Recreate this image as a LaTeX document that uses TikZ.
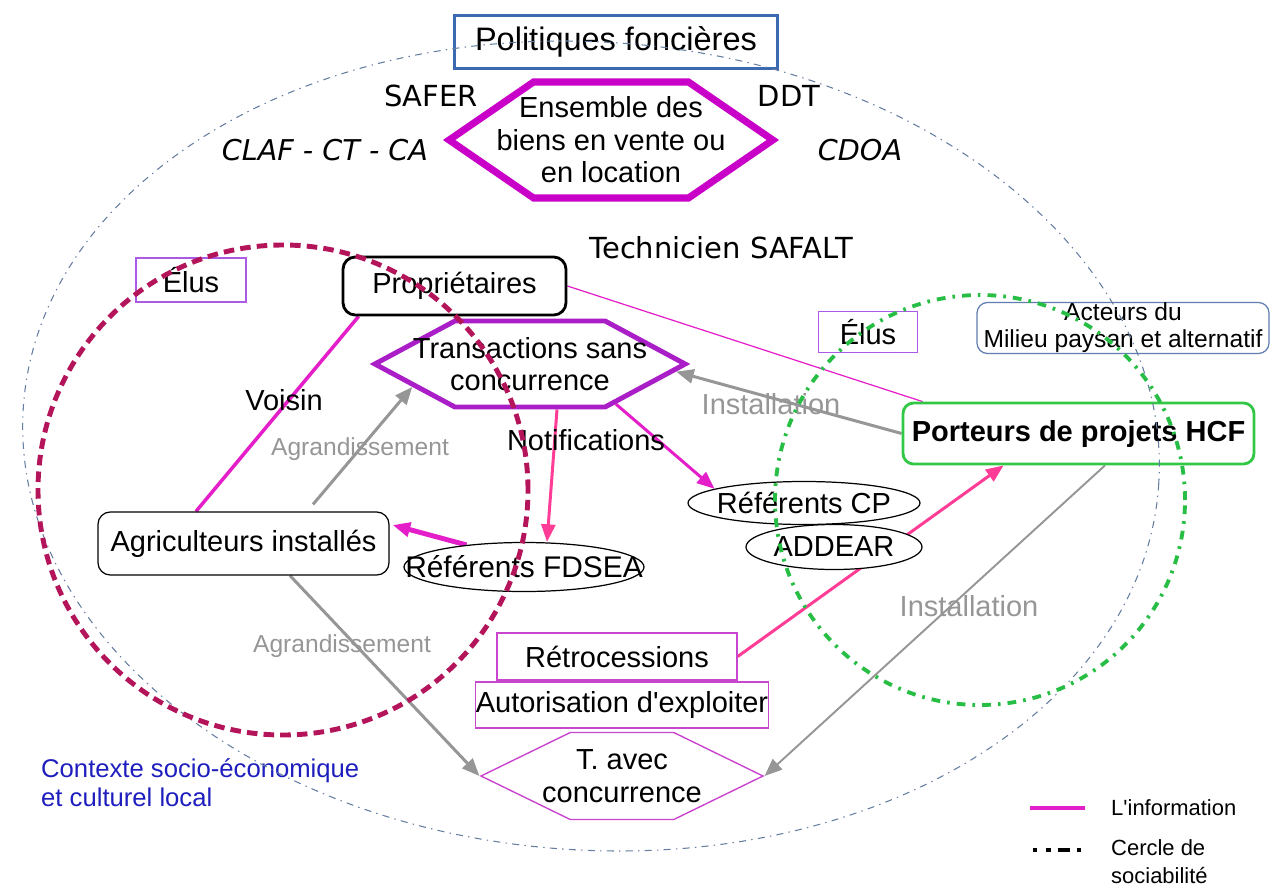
\documentclass[tikz,border=0pt]{standalone}
\usepackage{fontspec}
\setmainfont{Liberation Sans}[Ligatures=TeXOff]
\newfontfamily\comicfont{DejaVu Sans}
\usetikzlibrary{shapes.symbols,shapes.geometric,arrows.meta,calc}

\definecolor{info}{RGB}{228,30,200}
\definecolor{pinkinfo}{RGB}{255,60,150}
\definecolor{polblue}{RGB}{60,105,175}
\definecolor{ensmag}{RGB}{200,0,200}
\definecolor{tscpurple}{RGB}{170,30,200}
\definecolor{elupurple}{RGB}{170,90,230}
\definecolor{actblue}{RGB}{95,125,175}
\definecolor{hcfgreen}{RGB}{50,200,70}
\definecolor{retromag}{RGB}{200,70,205}
\definecolor{linkgrey}{RGB}{150,150,150}
\definecolor{sociocrimson}{RGB}{180,20,90}
\definecolor{sociogreen}{RGB}{40,190,70}
\definecolor{ctxblue}{RGB}{30,30,190}
\definecolor{ctxline}{RGB}{100,125,160}

\pgfdeclarelayer{background}
\pgfsetlayers{background,main}

\tikzset{
  txt/.style={font=\fontsize{16.5}{18.5}\selectfont},
  rect/.style={txt,rectangle,inner sep=0pt,align=center},
  hexa/.style={txt,signal,signal to=east and west,inner ysep=0pt,align=center},
  oval/.style={txt,ellipse,draw,fill=white,inner sep=0pt,line width=0.7pt},
  elus/.style={rect,draw=elupurple,line width=0.8pt},
  comic/.style={font=\comicfont\fontsize{16.5}{19}\selectfont},
  comicit/.style={font=\comicfont\itshape\fontsize{16.3}{19}\selectfont},
  greylbl/.style={txt,text=linkgrey},
  greysmall/.style={font=\fontsize{14}{16}\selectfont,text=linkgrey},
  tip/.style={-{Triangle[length=10pt,width=8pt]}},
  greyarrow/.style={tip,linkgrey,line width=1.7pt},
  pinkarrow/.style={tip,pinkinfo,line width=1.7pt},
  infoarrow/.style={tip,info,line width=1.7pt},
  circleA/.style={sociocrimson,line width=2.8pt,dash pattern=on 6pt off 3.5pt},
  circleB/.style={sociogreen,line width=2.2pt,dash pattern=on 5pt off 4pt on 1.5pt off 4pt},
  ctxdash/.style={ctxline,line width=0.6pt,dash pattern=on 4pt off 3pt on 0.8pt off 3pt}
}

\begin{document}
\begin{tikzpicture}
        \useasboundingbox (0,0) rectangle (25.46,-17.72);
        \node[rect,draw=polblue,line width=1.2pt,minimum width=6.46cm,minimum height=1.06cm,font=\fontsize{18.5}{20}\selectfont] (pol) at (12.32,-0.84) {Politiques foncières};
        \node[hexa,draw=ensmag,line width=4pt,inner xsep=-0.74cm,minimum height=2.32cm,signal pointer angle=69] (ens) at (12.22,-2.8) {Ensemble des\\biens en vente ou\\en location};
        \node[comic] (safer) at (8.62,-1.92) {SAFER};
        \node[comic] (ddt) at (15.78,-1.92) {DDT};
        \node[comicit] (claf) at (6.5,-3.0) {CLAF - CT - CA};
        \node[comicit] (cdoa) at (17.2,-3.0) {CDOA};
        \node[comic] (tech) at (14.42,-4.96) {Technicien SAFALT};
        \node[elus,minimum width=2.2cm,minimum height=0.88cm] (elusL) at (3.82,-5.6) {Élus};
        \node[rect,draw,rounded corners=7pt,line width=1.6pt,minimum width=4.46cm,minimum height=1.16cm] (prop) at (9.09,-5.72) {Propriétaires};
        \node[hexa,draw=tscpurple,line width=2.8pt,inner xsep=-0.84cm,minimum height=1.72cm,signal pointer angle=56.5] (tsc) at (10.6,-7.28) {Transactions sans\\concurrence};
        \node[rect,draw,rounded corners=7pt,line width=0.7pt,minimum width=5.82cm,minimum height=1.26cm] (agri) at (4.87,-10.87) {Agriculteurs installés};
        \node[oval,minimum width=4.8cm,minimum height=0.98cm,font=\fontsize{17}{19}\selectfont] (fdsea) at (10.48,-11.34) {\makebox[0pt]{Référents FDSEA}};
        \node[oval,minimum width=4.64cm,minimum height=0.86cm] (cp) at (16.08,-10.06) {\makebox[0pt]{Référents CP}};
        \node[oval,minimum width=3.52cm,minimum height=0.9cm] (addear) at (16.68,-10.94) {\makebox[0pt]{ADDEAR}};
        \node[elus,minimum width=1.98cm,minimum height=0.82cm] (elusR) at (17.36,-6.64) {Élus};
        \node[rect,draw=actblue,rounded corners=6pt,line width=0.7pt,minimum width=5.84cm,minimum height=1.02cm,font=\fontsize{14}{15.5}\selectfont] (acteurs) at (22.46,-6.56) {Acteurs du\\Milieu paysan et alternatif};
        \node[rect,draw=hcfgreen,rounded corners=6pt,line width=1.6pt,minimum width=7.02cm,minimum height=1.22cm,font=\bfseries\fontsize{16.5}{18.5}\selectfont] (porteurs) at (21.57,-8.67) {Porteurs de projets HCF};
        \node[rect,draw=retromag,line width=0.8pt,minimum width=4.8cm,minimum height=0.94cm] (retro) at (12.34,-13.13) {Rétrocessions};
        \node[rect,draw=retromag,line width=0.8pt,minimum width=5.76cm,minimum height=0.92cm] (autor) at (12.44,-14.1) {Autorisation d'exploiter};
        \node[hexa,draw=retromag,line width=0.8pt,inner xsep=-0.56cm,minimum height=1.74cm,signal pointer angle=52] (tavec) at (12.44,-15.52) {T. avec\\concurrence};
        \node[txt] (voisin) at (5.68,-8.0) {Voisin};
        \node[greysmall] (agr1) at (7.2,-8.98) {Agrandissement};
        \node[txt] (notif) at (11.72,-8.8) {Notifications};
        \node[greylbl] (inst1) at (15.42,-8.08) {Installation};
        \node[greylbl] (inst2) at (19.38,-12.12) {Installation};
        \node[greysmall] (agr2) at (6.84,-12.92) {Agrandissement};
        \node[anchor=west,align=left,text=ctxblue,font=\fontsize{14.6}{16.6}\selectfont] (ctx) at (0.7,-15.65) {Contexte socio-économique\\et culturel local};
        \begin{pgfonlayer}{background}
        \draw[info,line width=0.7pt] (prop.east) -- ($(porteurs.north west)+(0.42,0)$);
        \draw[info,line width=2pt] ($(prop.south west)+(0.34,0)$) -- ($(agri.north)+(-0.95,0)$);
        \draw[greyarrow] ($(agri.north)+(1.39,0.14)$) -- (tsc.191);
        \draw[pinkarrow] ($(tsc.south)+(0.54,0)$) -- ($(fdsea.north)+(0.46,0)$);
        \draw[infoarrow] (tsc.335) -- (cp.171);
        \draw[infoarrow,line width=2.8pt] (fdsea.159) -- ($(agri.east)+(0.06,0.37)$);
        \draw[greyarrow] (porteurs.west) -- (tsc.357);
        \draw[pinkarrow] (retro.east) -- ($(porteurs.south west)+(2.04,0)$);
        \draw[greyarrow] ($(agri.south)+(0.93,0)$) -- (tavec.west);
        \draw[greyarrow,line width=1.1pt] ($(porteurs.south)+(0.53,0)$) -- (tavec.east);
        \end{pgfonlayer}
        \draw[ctxdash,rotate around={-4:(11.82,-8.92)}] (11.82,-8.92) ellipse [x radius=11.38,y radius=8.08];
        \draw[circleA] (5.66,-9.8) circle (4.9);
        \draw[circleB] (19.6,-10.0) circle (4.1);
        \coordinate (infoA) at (20.6,-16.16);
        \coordinate (infoB) at (21.7,-16.16);
        \draw[info,line width=2.2pt] (infoA) -- (infoB);
        \node[anchor=west,font=\fontsize{12.5}{16}\selectfont] (leginfo) at (22.1,-16.16) {L'information};
        \coordinate (circA) at (20.66,-17.0);
        \coordinate (circB) at (21.72,-17.0);
        \draw[black,line width=2.2pt,dash pattern=on 2.5pt off 5pt on 2.5pt off 4pt on 7pt off 4pt on 2.5pt off 10pt] (circA) -- (circB);
        \node[anchor=west,align=left,font=\fontsize{12.5}{16}\selectfont] (legcercle) at (22.1,-17.24) {Cercle de\\sociabilité};
\end{tikzpicture}
\end{document}
